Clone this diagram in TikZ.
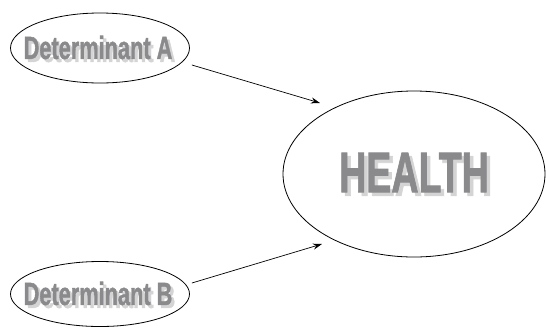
\documentclass[tikz,border=0pt]{standalone}
\usepackage{fontspec}
\usepackage{graphicx}
\setmainfont{Liberation Sans}
\newfontfamily\heavyfont[FakeBold=1.6]{Liberation Sans Bold}
\usetikzlibrary{shapes.geometric,arrows.meta}
\definecolor{txtgray}{RGB}{138,138,141}
\definecolor{shadowgray}{RGB}{212,212,212}
\tikzset{
  bubble/.style={draw=black, line width=0.8pt, ellipse, inner sep=0pt},
  dettext/.style={font=\fontsize{32}{32}\heavyfont, text=txtgray, inner sep=0pt},
  healthtext/.style={font=\fontsize{57}{57}\heavyfont, text=txtgray, inner sep=0pt},
  shadowtext/.style={text=shadowgray},
  link/.style={draw=black, line width=0.7pt, -{Stealth[length=9pt,width=6pt]}}
}
\newcommand{\detlabel}[1]{\scalebox{0.68}[1]{#1}}
\newcommand{\hlabel}[1]{\scalebox{0.66}[1]{#1}}
\begin{document}
\begin{tikzpicture}[x=1pt,y=-1pt]
\useasboundingbox (0,0) rectangle (546,330);
% shadows
\node[dettext, shadowtext] (As) at (101,50.5) {\detlabel{Determinant A}};
\node[dettext, shadowtext] (Bs) at (101,296.5) {\detlabel{Determinant B}};
\node[healthtext, shadowtext] (Hs) at (417.5,176) {\hlabel{HEALTH}};
% ellipses
\node[bubble, minimum width=179pt, minimum height=70pt] (A) at (100,48) {};
\node[bubble, minimum width=179pt, minimum height=65pt] (B) at (100,294) {};
\node[bubble, minimum width=262pt, minimum height=166pt] (H) at (414,174) {};
% texts
\node[dettext] (At) at (98,47.5) {\detlabel{Determinant A}};
\node[dettext] (Bt) at (98,293.5) {\detlabel{Determinant B}};
\node[healthtext] (Ht) at (414,172.5) {\hlabel{HEALTH}};
% connectors
\draw[link] ([shift={(2,17)}]A.east) -- ([shift={(-94,-71)}]H.center);
\draw[link] ([shift={(2,-11)}]B.east) -- ([shift={(-92,70)}]H.center);
\end{tikzpicture}
\end{document}
